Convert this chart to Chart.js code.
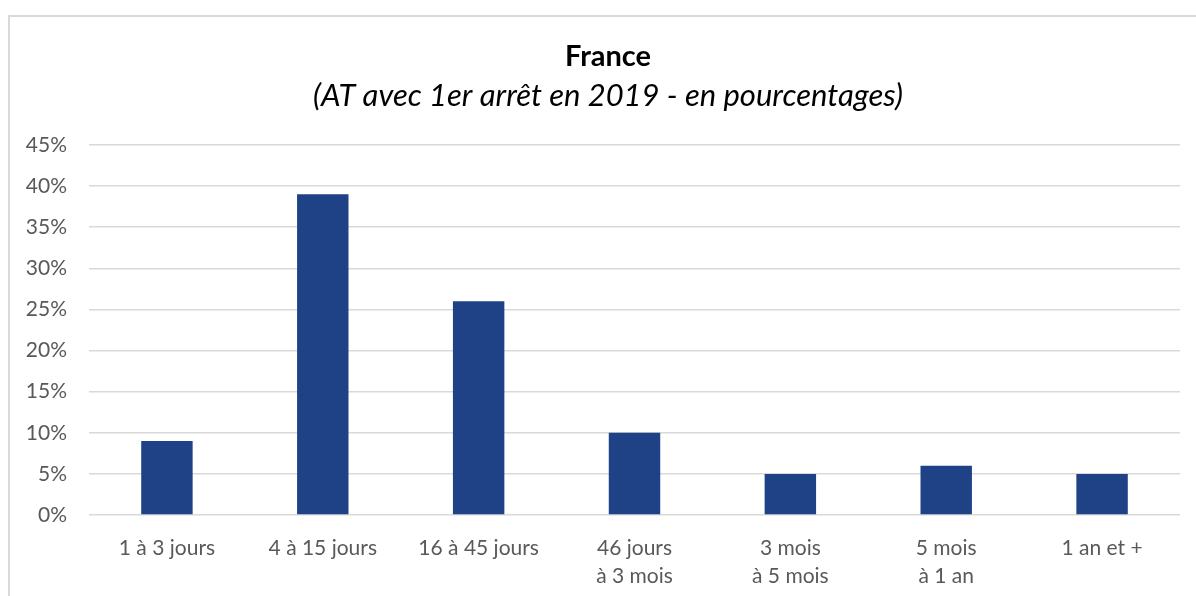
<!DOCTYPE html>
<html lang="fr">
<head>
<meta charset="utf-8">
<title>France - AT avec 1er arrêt en 2019</title>
<script src="https://cdn.jsdelivr.net/npm/chart.js@4/dist/chart.umd.min.js"></script>
<style>
  html, body { margin: 0; padding: 0; background: #fff; overflow: hidden; }
  #frame {
    position: absolute; left: 8px; top: 15px; width: 1400px; height: 800px;
    border: 2px solid #d9d9d9; pointer-events: none;
  }
  #chart { position: absolute; left: 0; top: 0; }
</style>
</head>
<body>
<div id="frame"></div>
<canvas id="chart" width="1196" height="596"></canvas>
<script>
const categories = [
  "1 à 3 jours",
  "4 à 15 jours",
  "16 à 45 jours",
  ["46 jours", "à 3 mois"],
  ["3 mois", "à 5 mois"],
  ["5 mois", "à 1 an"],
  "1 an et +",
];
const shares = [9, 39, 26, 10, 5, 6, 5];
const yTicks = [0, 5, 10, 15, 20, 25, 30, 35, 40, 45];

const titleText = "France";
const subtitleText = "(AT avec 1er arrêt en 2019 - en pourcentages)";

const fontFamily = "Lato, 'Open Sans', sans-serif";
const labelColor = "#595959";

new Chart(document.getElementById("chart"), {
  type: "bar",
  data: {
    labels: categories,
    datasets: [{
      label: "France",
      data: shares,
      backgroundColor: "#1f4287",
      borderWidth: 0,
      barPercentage: 0.33,
      categoryPercentage: 1,
    }],
  },
  options: {
    responsive: false,
    animation: false,
    // the title is centred on the framed box, a bit right of the canvas centre
    layout: { padding: { left: 20, right: 0, top: 0, bottom: 7 } },
    plugins: {
      legend: { display: false },
      tooltip: { enabled: false },
      title: {
        display: true,
        text: titleText,
        color: "#000",
        font: { family: fontFamily, size: 29, weight: "bold", lineHeight: 1.2 },
        padding: { top: 39, bottom: 4 },
      },
      subtitle: {
        display: true,
        text: subtitleText,
        color: "#000",
        font: { family: fontFamily, size: 31, style: "italic", lineHeight: 1.2 },
        padding: { top: 0, bottom: 30 },
      },
    },
    scales: {
      x: {
        afterFit: (scale) => { scale.height = 74; },
        grid: { display: false },
        border: { display: false },
        ticks: {
          color: labelColor,
          font: { family: fontFamily, size: 21, lineHeight: 1.33 },
          padding: 11,
          maxRotation: 0,
          autoSkip: false,
        },
      },
      y: {
        min: 0,
        max: 45,
        afterFit: (scale) => { scale.width = 69; },
        afterBuildTicks: (scale) => { scale.ticks = yTicks.map((v) => ({ value: v })); },
        grid: { color: "#d9d9d9", lineWidth: 1.5, drawTicks: false },
        border: { display: false },
        ticks: {
          color: labelColor,
          font: { family: fontFamily, size: 21 },
          padding: 22,
          callback: (value) => `${value}%`,
        },
      },
      // empty right-hand spacer so the plot ends at the same place as the reference
      spacer: {
        position: "right",
        min: 0,
        max: 45,
        afterFit: (scale) => { scale.width = 16; },
        grid: { display: false },
        border: { display: false },
        ticks: { display: false },
      },
    },
  },
});
</script>
</body>
</html>
